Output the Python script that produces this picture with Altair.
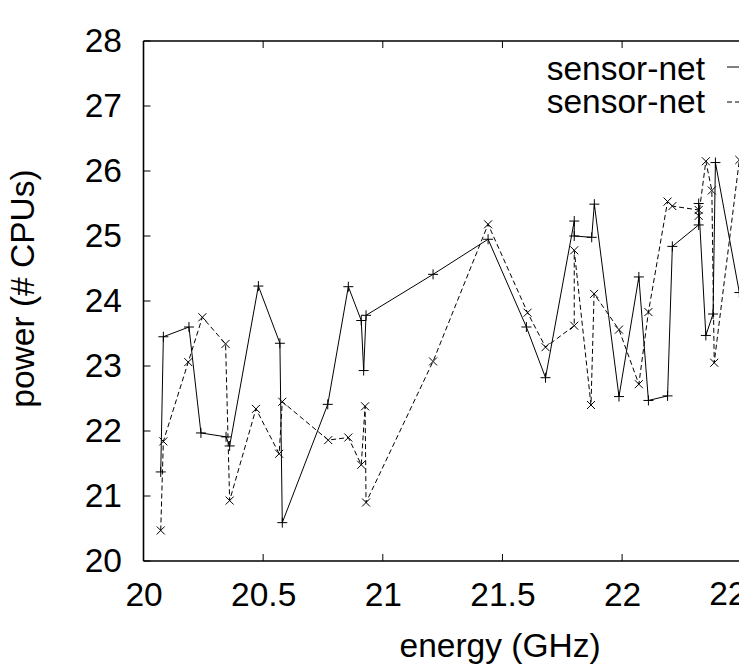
import altair as alt
import pandas as pd

# ---- data ----
x_ticks = [20, 20.5, 21, 21.5, 22, 22.5]
y_ticks = [20, 21, 22, 23, 24, 25, 26, 27, 28]

series_names = ["sensor-net", "sensor-net"]

s1_x = [20.072, 20.083, 20.19, 20.24, 20.345, 20.36, 20.48, 20.57, 20.58,
        20.77, 20.856, 20.91, 20.92, 20.93, 21.21, 21.44, 21.60, 21.68,
        21.80, 21.80, 21.873, 21.884, 21.987, 22.07, 22.11, 22.19, 22.21,
        22.32, 22.32, 22.35, 22.38, 22.39, 22.49]
s1_y = [21.37, 23.45, 23.60, 21.97, 21.91, 21.77, 24.23, 23.35, 20.59,
        22.41, 24.22, 23.70, 22.93, 23.78, 24.41, 24.95, 23.60, 22.82,
        25.23, 25.00, 24.98, 25.49, 22.53, 24.37, 22.47, 22.54, 24.84,
        25.17, 25.50, 23.47, 23.80, 26.13, 24.13]

s2_x = [20.072, 20.083, 20.187, 20.246, 20.343, 20.36, 20.47, 20.567, 20.58,
        20.772, 20.856, 20.91, 20.926, 20.93, 21.21, 21.44, 21.605, 21.68,
        21.80, 21.80, 21.87, 21.883, 21.987, 22.07, 22.11, 22.19, 22.21,
        22.32, 22.32, 22.35, 22.375, 22.385, 22.49]
s2_y = [20.47, 21.84, 23.06, 23.75, 23.34, 20.93, 22.34, 21.65, 22.45,
        21.86, 21.90, 21.48, 22.38, 20.90, 23.07, 25.18, 23.82, 23.29,
        23.62, 24.78, 22.40, 24.11, 23.56, 22.72, 23.83, 25.53, 25.46,
        25.40, 25.31, 26.15, 25.70, 23.05, 26.17]

# ---- layout ----
LEFT, TOP = 143.5, 41
W, H = 739 - LEFT, 520
X_MAX = 20 + W / 239.3
FONT = "Liberation Sans"
FS = 33.5
LABEL_PAD = 18

df1 = pd.DataFrame({"x": s1_x, "y": s1_y, "i": list(range(len(s1_x)))})
df2 = pd.DataFrame({"x": s2_x, "y": s2_y, "i": list(range(len(s2_x)))})
dfx = pd.DataFrame({"v": x_ticks})
dfx_out = pd.DataFrame({"v": [v for v in x_ticks if v > X_MAX]})
dfy = pd.DataFrame({"v": y_ticks})
dfleg1 = pd.DataFrame({"label": [series_names[0]]})
dfleg2 = pd.DataFrame({"label": [series_names[1]]})

xs = alt.Scale(domain=[20, X_MAX], nice=False, zero=False)
ys = alt.Scale(domain=[20, 28], nice=False, zero=False)

x_axis = alt.Axis(values=x_ticks, format="~g", ticks=False, domain=False, grid=False,
                  labelFont=FONT, labelFontSize=FS, labelColor="black",
                  labelPadding=LABEL_PAD,
                  title="energy (GHz)", titleFont=FONT, titleFontSize=FS,
                  titleFontWeight="normal", titleColor="black", titlePadding=19,
                  titleAnchor="start", titleX=399 - LEFT,
                  labelFlush=False, labelOverlap=False, labelBound=False)
y_axis = alt.Axis(values=y_ticks, format="~g", ticks=False, domain=False, grid=False,
                  labelFont=FONT, labelFontSize=FS, labelColor="black", labelPadding=22,
                  title="power (# CPUs)", titleFont=FONT, titleFontSize=FS,
                  titleFontWeight="normal", titleColor="black", titlePadding=44,
                  titleY=288 - TOP,
                  labelFlush=False, labelOverlap=False)

plus_shape = "M-1,0L1,0M0,-1L0,1"
cross_shape = "M-1,-1L1,1M-1,1L1,-1"

line1 = alt.Chart(df1).mark_line(color="black", strokeWidth=1, clip=True).encode(
    x=alt.X("x:Q", scale=xs, axis=x_axis), y=alt.Y("y:Q", scale=ys, axis=y_axis),
    order="i:Q")
pts1 = alt.Chart(df1).mark_point(shape=plus_shape, filled=False, color="black",
                                 strokeWidth=1, size=100, opacity=1).encode(
    x=alt.X("x:Q", scale=xs), y=alt.Y("y:Q", scale=ys))
line2 = alt.Chart(df2).mark_line(color="black", strokeWidth=1, strokeDash=[5, 3],
                                 clip=True).encode(
    x=alt.X("x:Q", scale=xs), y=alt.Y("y:Q", scale=ys), order="i:Q")
pts2 = alt.Chart(df2).mark_point(shape=cross_shape, filled=False, color="black",
                                 strokeWidth=1, size=64, opacity=1).encode(
    x=alt.X("x:Q", scale=xs), y=alt.Y("y:Q", scale=ys))

# tick label that lies past the visible right edge (cut off, as in the reference)
x_out_label = alt.Chart(dfx_out).mark_text(align="center", baseline="top", font=FONT,
                                           fontSize=FS, color="black").encode(
    x=alt.X("v:Q", scale=xs), y=alt.value(H + LABEL_PAD), text=alt.Text("v:Q", format="~g"))

# borders (right border lies beyond the visible area)
border_top = alt.Chart(dfleg1).mark_rule(color="black", strokeWidth=1.6).encode(
    x=alt.value(0), x2=alt.value(W + 5), y=alt.value(0))
border_bot = alt.Chart(dfleg1).mark_rule(color="black", strokeWidth=1.6).encode(
    x=alt.value(0), x2=alt.value(W + 5), y=alt.value(H))
border_left = alt.Chart(dfleg1).mark_rule(color="black", strokeWidth=1.6).encode(
    x=alt.value(0), y=alt.value(0), y2=alt.value(H))

# inward ticks
tick_len = 7
dfx_in = dfx[dfx["v"] <= X_MAX]
xt_bot = alt.Chart(dfx_in).mark_rule(color="black", strokeWidth=1).encode(
    x=alt.X("v:Q", scale=xs), y=alt.value(H), y2=alt.value(H - tick_len))
xt_top = alt.Chart(dfx_in).mark_rule(color="black", strokeWidth=1).encode(
    x=alt.X("v:Q", scale=xs), y=alt.value(0), y2=alt.value(tick_len))
yt_left = alt.Chart(dfy).mark_rule(color="black", strokeWidth=1).encode(
    y=alt.Y("v:Q", scale=ys), x=alt.value(0), x2=alt.value(tick_len))

# key (top right, gnuplot style: text then sample line)
leg_text1 = alt.Chart(dfleg1).mark_text(align="right", baseline="middle", font=FONT,
                                        fontSize=FS, color="black").encode(
    text="label:N", x=alt.value(705 - LEFT), y=alt.value(70 - TOP))
leg_text2 = alt.Chart(dfleg2).mark_text(align="right", baseline="middle", font=FONT,
                                        fontSize=FS, color="black").encode(
    text="label:N", x=alt.value(705 - LEFT), y=alt.value(103 - TOP))
leg_solid = alt.Chart(dfleg1).mark_rule(color="black", strokeWidth=1).encode(
    x=alt.value(727 - LEFT), x2=alt.value(727 - LEFT + 70), y=alt.value(67 - TOP))
leg_dash = alt.Chart(dfleg2).mark_rule(color="black", strokeWidth=1,
                                       strokeDash=[5, 3]).encode(
    x=alt.value(727 - LEFT), x2=alt.value(727 - LEFT + 70), y=alt.value(102 - TOP))

chart = alt.layer(line1, line2, pts1, pts2, x_out_label,
                  border_top, border_bot, border_left,
                  xt_bot, xt_top, yt_left,
                  leg_text1, leg_text2, leg_solid, leg_dash).properties(
    width=W, height=H,
    autosize=alt.AutoSizeParams(type="none"),
    padding={"left": LEFT, "top": TOP, "right": 0, "bottom": 666 - TOP - H},
    background="white",
).configure_view(stroke=None)

chart.save("out.html", embed_options={"renderer": "svg", "actions": False})
